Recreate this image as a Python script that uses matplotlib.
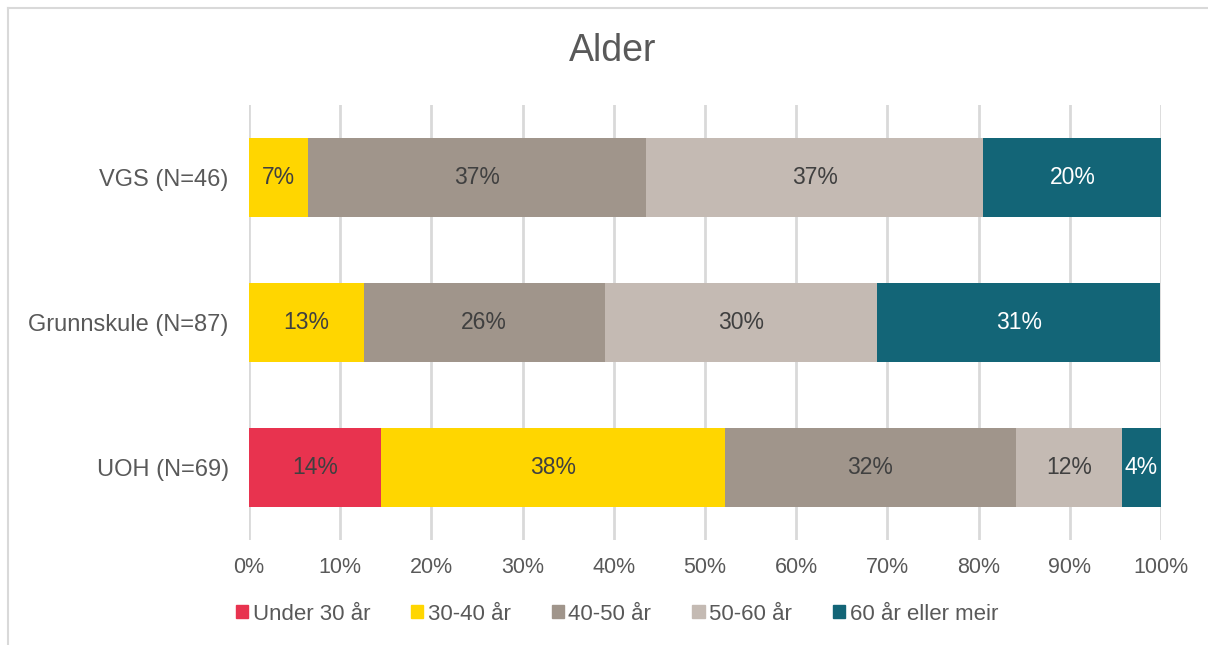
import numpy as np
import matplotlib.pyplot as plt
from matplotlib.lines import Line2D

plt.rcParams['font.family'] = ['Liberation Sans', 'DejaVu Sans']

groups = ['UOH (N=69)', 'Grunnskule (N=87)', 'VGS (N=46)']
series = ['Under 30 år', '30-40 år', '40-50 år', '50-60 år', '60 år eller meir']
# percent per group (UOH, Grunnskule, VGS)
under30 = [14.5, 0, 0]
a30_40 = [37.7, 12.6, 6.52]
a40_50 = [31.9, 26.4, 37.0]
a50_60 = [11.6, 29.9, 37.0]
over60 = [4.3, 31.0, 19.6]
colors = ['#E8334F', '#FFD600', '#A0958B', '#C4BAB3', '#136577']
label_colors = ['#404040', '#404040', '#404040', '#404040', 'white']

fig = plt.figure(figsize=(12.08, 6.45), dpi=100)
ax = fig.add_axes([249/1208, 1-540/645, 912/1208, 435/645])

y = np.arange(len(groups))
left = np.zeros(len(groups))
for vals, name, c, lc in zip([under30, a30_40, a40_50, a50_60, over60], series, colors, label_colors):
    vals = np.array(vals)
    ax.barh(y, vals, left=left, height=0.55, color=c, label=name, zorder=3)
    for yi, v, l in zip(y, vals, left):
        if v > 0:
            ax.text(l + v/2, yi, f'{v:.0f}%', ha='center', va='center',
                    fontsize=16.5, color=lc, zorder=4)
    left += vals

ax.set_xlim(0, 100)
ax.set_ylim(-0.5, 2.5)
ax.set_xticks(np.arange(0, 101, 10))
ax.set_xticklabels([f'{t}%' for t in range(0, 101, 10)])
ax.set_yticks(y)
ax.set_yticklabels(groups)
ax.tick_params(axis='both', length=0, colors='#595959')
ax.tick_params(axis='x', pad=12.5, labelsize=15.5)
ax.tick_params(axis='y', pad=14.5, labelsize=17)
ax.grid(axis='x', color='#D9D9D9', linewidth=2, zorder=0)
for s in ax.spines.values():
    s.set_visible(False)

fig.text(613/1208, 1-51/645, 'Alder', ha='center', va='center', fontsize=27, color='#595959')

handles = [plt.Rectangle((0, 0), 1, 1, color=c) for c in colors]
fig.legend(handles, series, loc='center', bbox_to_anchor=(617/1208, 1-614/645), ncol=5,
           frameon=False, fontsize=16, handlelength=0.55, handleheight=0.55,
           handletextpad=0.2, columnspacing=1.85, labelcolor='#595959')

# outer frame
fig.add_artist(Line2D([8/1208, 1], [1-8/645, 1-8/645], color='#D9D9D9', lw=1.5))
fig.add_artist(Line2D([8/1208, 8/1208], [0, 1-8/645], color='#D9D9D9', lw=1.5))

fig.savefig('out.png', dpi=100)
